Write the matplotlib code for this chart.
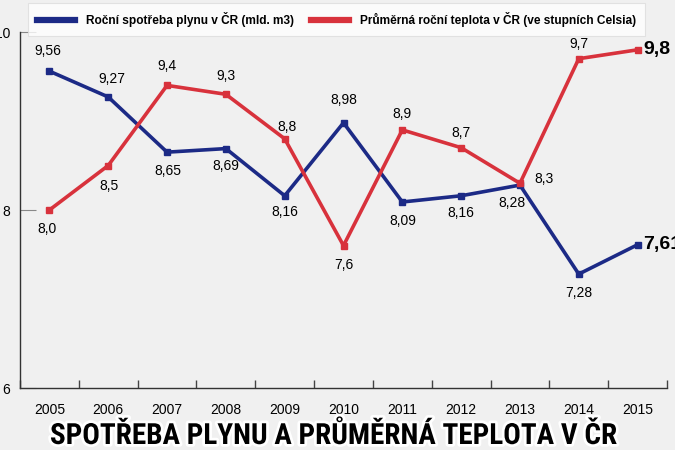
import matplotlib.pyplot as plt
import matplotlib.patheffects as pe
from matplotlib import font_manager
import numpy as np

years = ['2005', '2006', '2007', '2008', '2009', '2010',
         '2011', '2012', '2013', '2014', '2015']
gas = [9.56, 9.27, 8.65, 8.69, 8.16, 8.98, 8.09, 8.16, 8.28, 7.28, 7.61]
temp = [8.0, 8.5, 9.4, 9.3, 8.8, 7.6, 8.9, 8.7, 8.3, 9.7, 9.8]
gas_labels = ['9,56', '9,27', '8,65', '8,69', '8,16', '8,98',
              '8,09', '8,16', '8,28', '7,28', '7,61']
temp_labels = ['8,0', '8,5', '9,4', '9,3', '8,8', '7,6',
               '8,9', '8,7', '8,3', '9,7', '9,8']

BLUE = '#1c2a86'
RED = '#d8323c'

plt.rcParams['font.family'] = ['Liberation Sans', 'DejaVu Sans']

# narrowest bold family that happens to be installed for the title
names = {f.name for f in font_manager.fontManager.ttflist}
title_font = 'Liberation Sans'
for cand in ['Liberation Sans Narrow', 'Roboto Condensed', 'Open Sans Condensed',
             'DejaVu Sans Condensed', 'Noto Sans Condensed']:
    if cand in names:
        title_font = cand
        break

fig = plt.figure(figsize=(6.75, 4.5), dpi=100)
fig.patch.set_facecolor('#f0f0f0')
ax = fig.add_axes([20 / 675, 62 / 450, 647 / 675, 356 / 450])
ax.set_facecolor('none')

x = np.arange(len(years))
ax.plot(x, gas, color=BLUE, lw=2.6, marker='s', ms=5, zorder=3,
        label='Roční spotřeba plynu v ČR (mld. m3)')
ax.plot(x, temp, color=RED, lw=2.6, marker='s', ms=5, zorder=3,
        label='Průměrná roční teplota v ČR (ve stupních Celsia)')

# label offsets in pixels (dx, dy), last one is drawn bold to the right
gas_off = [(-2, 20), (4, 18), (1, -19), (0, -17), (0, -16), (0, 23),
           (0, -19), (0, -17), (-8, -18), (0, -19), (6, 0)]
temp_off = [(-2, -19), (1, -21), (0, 19), (0, 18), (2, 12), (0, -19),
            (0, 16), (0, 15), (14, 4), (0, 15), (6, 0)]

for vals, labs, offs in [(gas, gas_labels, gas_off), (temp, temp_labels, temp_off)]:
    for i, (v, s, (dx, dy)) in enumerate(zip(vals, labs, offs)):
        last = i == len(vals) - 1
        if last:
            ax.annotate(s, (i, v), xytext=(dx * 0.72, dy * 0.72),
                        textcoords='offset points', ha='left', va='center',
                        fontsize=14, fontweight='bold', annotation_clip=False)
        else:
            ha = 'left' if dx > 10 else 'center'
            ax.annotate(s, (i, v), xytext=(dx * 0.72, dy * 0.72),
                        textcoords='offset points', ha=ha, va='center',
                        fontsize=10)

ax.set_xlim(-0.5, len(years) - 0.5)
ax.set_ylim(6, 10)
ax.set_yticks([6, 8, 10])
ax.set_yticklabels(['6', '8', '10'])
ax.tick_params(axis='y', direction='in', length=11.5, color='#888888',
               labelsize=10, pad=7)
ax.set_xticks(x)
ax.set_xticklabels(years)
ax.tick_params(axis='x', which='major', length=0, labelsize=10, pad=11)
ax.set_xticks(np.arange(-0.5, len(years)), minor=True)
ax.tick_params(axis='x', which='minor', direction='in', length=6,
               color='#444444', width=1)

for side in ['top', 'right']:
    ax.spines[side].set_visible(False)
for side in ['left', 'bottom']:
    ax.spines[side].set_color('#333333')
    ax.spines[side].set_linewidth(1)

leg = fig.legend(loc='upper left', bbox_to_anchor=(28 / 675, 1 - 3 / 450),
                 ncol=2, frameon=True, fancybox=False, shadow=False,
                 prop={'weight': 'bold', 'size': 8.6}, handlelength=3.2,
                 columnspacing=1.4, borderpad=0.75, handletextpad=0.9,
                 borderaxespad=0)
leg.get_frame().set_edgecolor('#dddddd')
leg.get_frame().set_linewidth(0.8)
for h in leg.get_lines():
    h.set_linewidth(4.5)
    h.set_marker('')

tsize = 21 if title_font != 'Liberation Sans' else 17
fig.text(333 / 675, 1 - 436 / 450, 'SPOTŘEBA PLYNU A PRŮMĚRNÁ TEPLOTA V ČR',
         ha='center', va='center', fontsize=tsize, fontweight='bold',
         family=[title_font, 'DejaVu Sans'],
         path_effects=[pe.withStroke(linewidth=4, foreground='white')])

fig.savefig('out.png', dpi=100, facecolor=fig.get_facecolor())
